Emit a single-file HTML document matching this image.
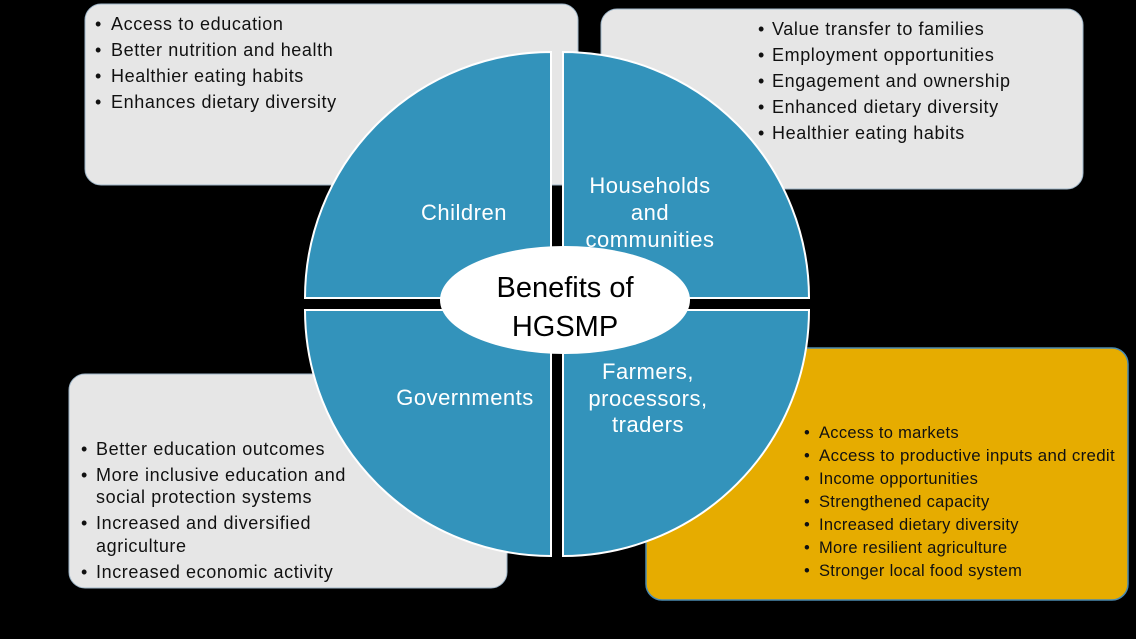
<!DOCTYPE html>
<html><head><meta charset="utf-8"><style>
html,body{margin:0;padding:0;background:#000;}
svg{display:block;font-family:"Liberation Sans",sans-serif;}
</style></head><body>
<svg width="1136" height="639" viewBox="0 0 1136 639" xmlns="http://www.w3.org/2000/svg">
<rect width="1136" height="639" fill="#000"/>
<rect x="85" y="4" width="493" height="181" rx="16" fill="#e6e6e6" stroke="#9fb6c8" stroke-width="1"/>
<rect x="601" y="9" width="482" height="180" rx="16" fill="#e6e6e6" stroke="#9fb6c8" stroke-width="1"/>
<rect x="69" y="374" width="438" height="214" rx="16" fill="#e6e6e6" stroke="#9fb6c8" stroke-width="1"/>
<rect x="646" y="348" width="482" height="252" rx="16" fill="#e6ac00" stroke="#4a8ab0" stroke-width="1.5"/>

<g font-size="18" fill="#111" letter-spacing="0.6">
<g><text x="95" y="30">•</text><text x="111" y="30">Access to education</text>
<text x="95" y="56">•</text><text x="111" y="56">Better nutrition and health</text>
<text x="95" y="82">•</text><text x="111" y="82">Healthier eating habits</text>
<text x="95" y="108">•</text><text x="111" y="108">Enhances dietary diversity</text></g>
<g><text x="758" y="35">•</text><text x="772" y="35">Value transfer to families</text>
<text x="758" y="61">•</text><text x="772" y="61">Employment opportunities</text>
<text x="758" y="87">•</text><text x="772" y="87">Engagement and ownership</text>
<text x="758" y="113">•</text><text x="772" y="113">Enhanced dietary diversity</text>
<text x="758" y="139">•</text><text x="772" y="139">Healthier eating habits</text></g>
<g><text x="81" y="455">•</text><text x="96" y="455">Better education outcomes</text>
<text x="81" y="481">•</text><text x="96" y="481">More inclusive education and</text>
<text x="96" y="503">social protection systems</text>
<text x="81" y="529">•</text><text x="96" y="529">Increased and diversified</text>
<text x="96" y="552">agriculture</text>
<text x="81" y="578">•</text><text x="96" y="578">Increased economic activity</text></g>
<g font-size="16.5" letter-spacing="0.3"><text x="804" y="438">•</text><text x="819" y="438">Access to markets</text>
<text x="804" y="461">•</text><text x="819" y="461" textLength="296" lengthAdjust="spacingAndGlyphs">Access to productive inputs and credit</text>
<text x="804" y="484">•</text><text x="819" y="484">Income opportunities</text>
<text x="804" y="507">•</text><text x="819" y="507">Strengthened capacity</text>
<text x="804" y="530">•</text><text x="819" y="530">Increased dietary diversity</text>
<text x="804" y="553">•</text><text x="819" y="553">More resilient agriculture</text>
<text x="804" y="576">•</text><text x="819" y="576">Stronger local food system</text></g>
</g>

<g fill="#3393bb" stroke="#fff" stroke-width="2">
<path d="M551,298 L305,298 A246,246 0 0 1 551,52 Z"/>
<path d="M563,298 L563,52 A246,246 0 0 1 809,298 Z"/>
<path d="M551,310 L551,556 A246,246 0 0 1 305,310 Z"/>
<path d="M563,310 L809,310 A246,246 0 0 1 563,556 Z"/>
</g>
<g fill="#fff" font-size="22" text-anchor="middle" letter-spacing="0.5">
<text x="464" y="220">Children</text>
<text x="650" y="193">Households</text>
<text x="650" y="220">and</text>
<text x="650" y="247">communities</text>
<text x="465" y="405">Governments</text>
<text x="648" y="379">Farmers,</text>
<text x="648" y="406">processors,</text>
<text x="648" y="432">traders</text>
</g>
<ellipse cx="565" cy="300" rx="125" ry="54" fill="#fff"/>
<g fill="#000" font-size="29" text-anchor="middle">
<text x="565" y="297">Benefits of</text>
<text x="565" y="336">HGSMP</text>
</g>
</svg>
</body></html>
